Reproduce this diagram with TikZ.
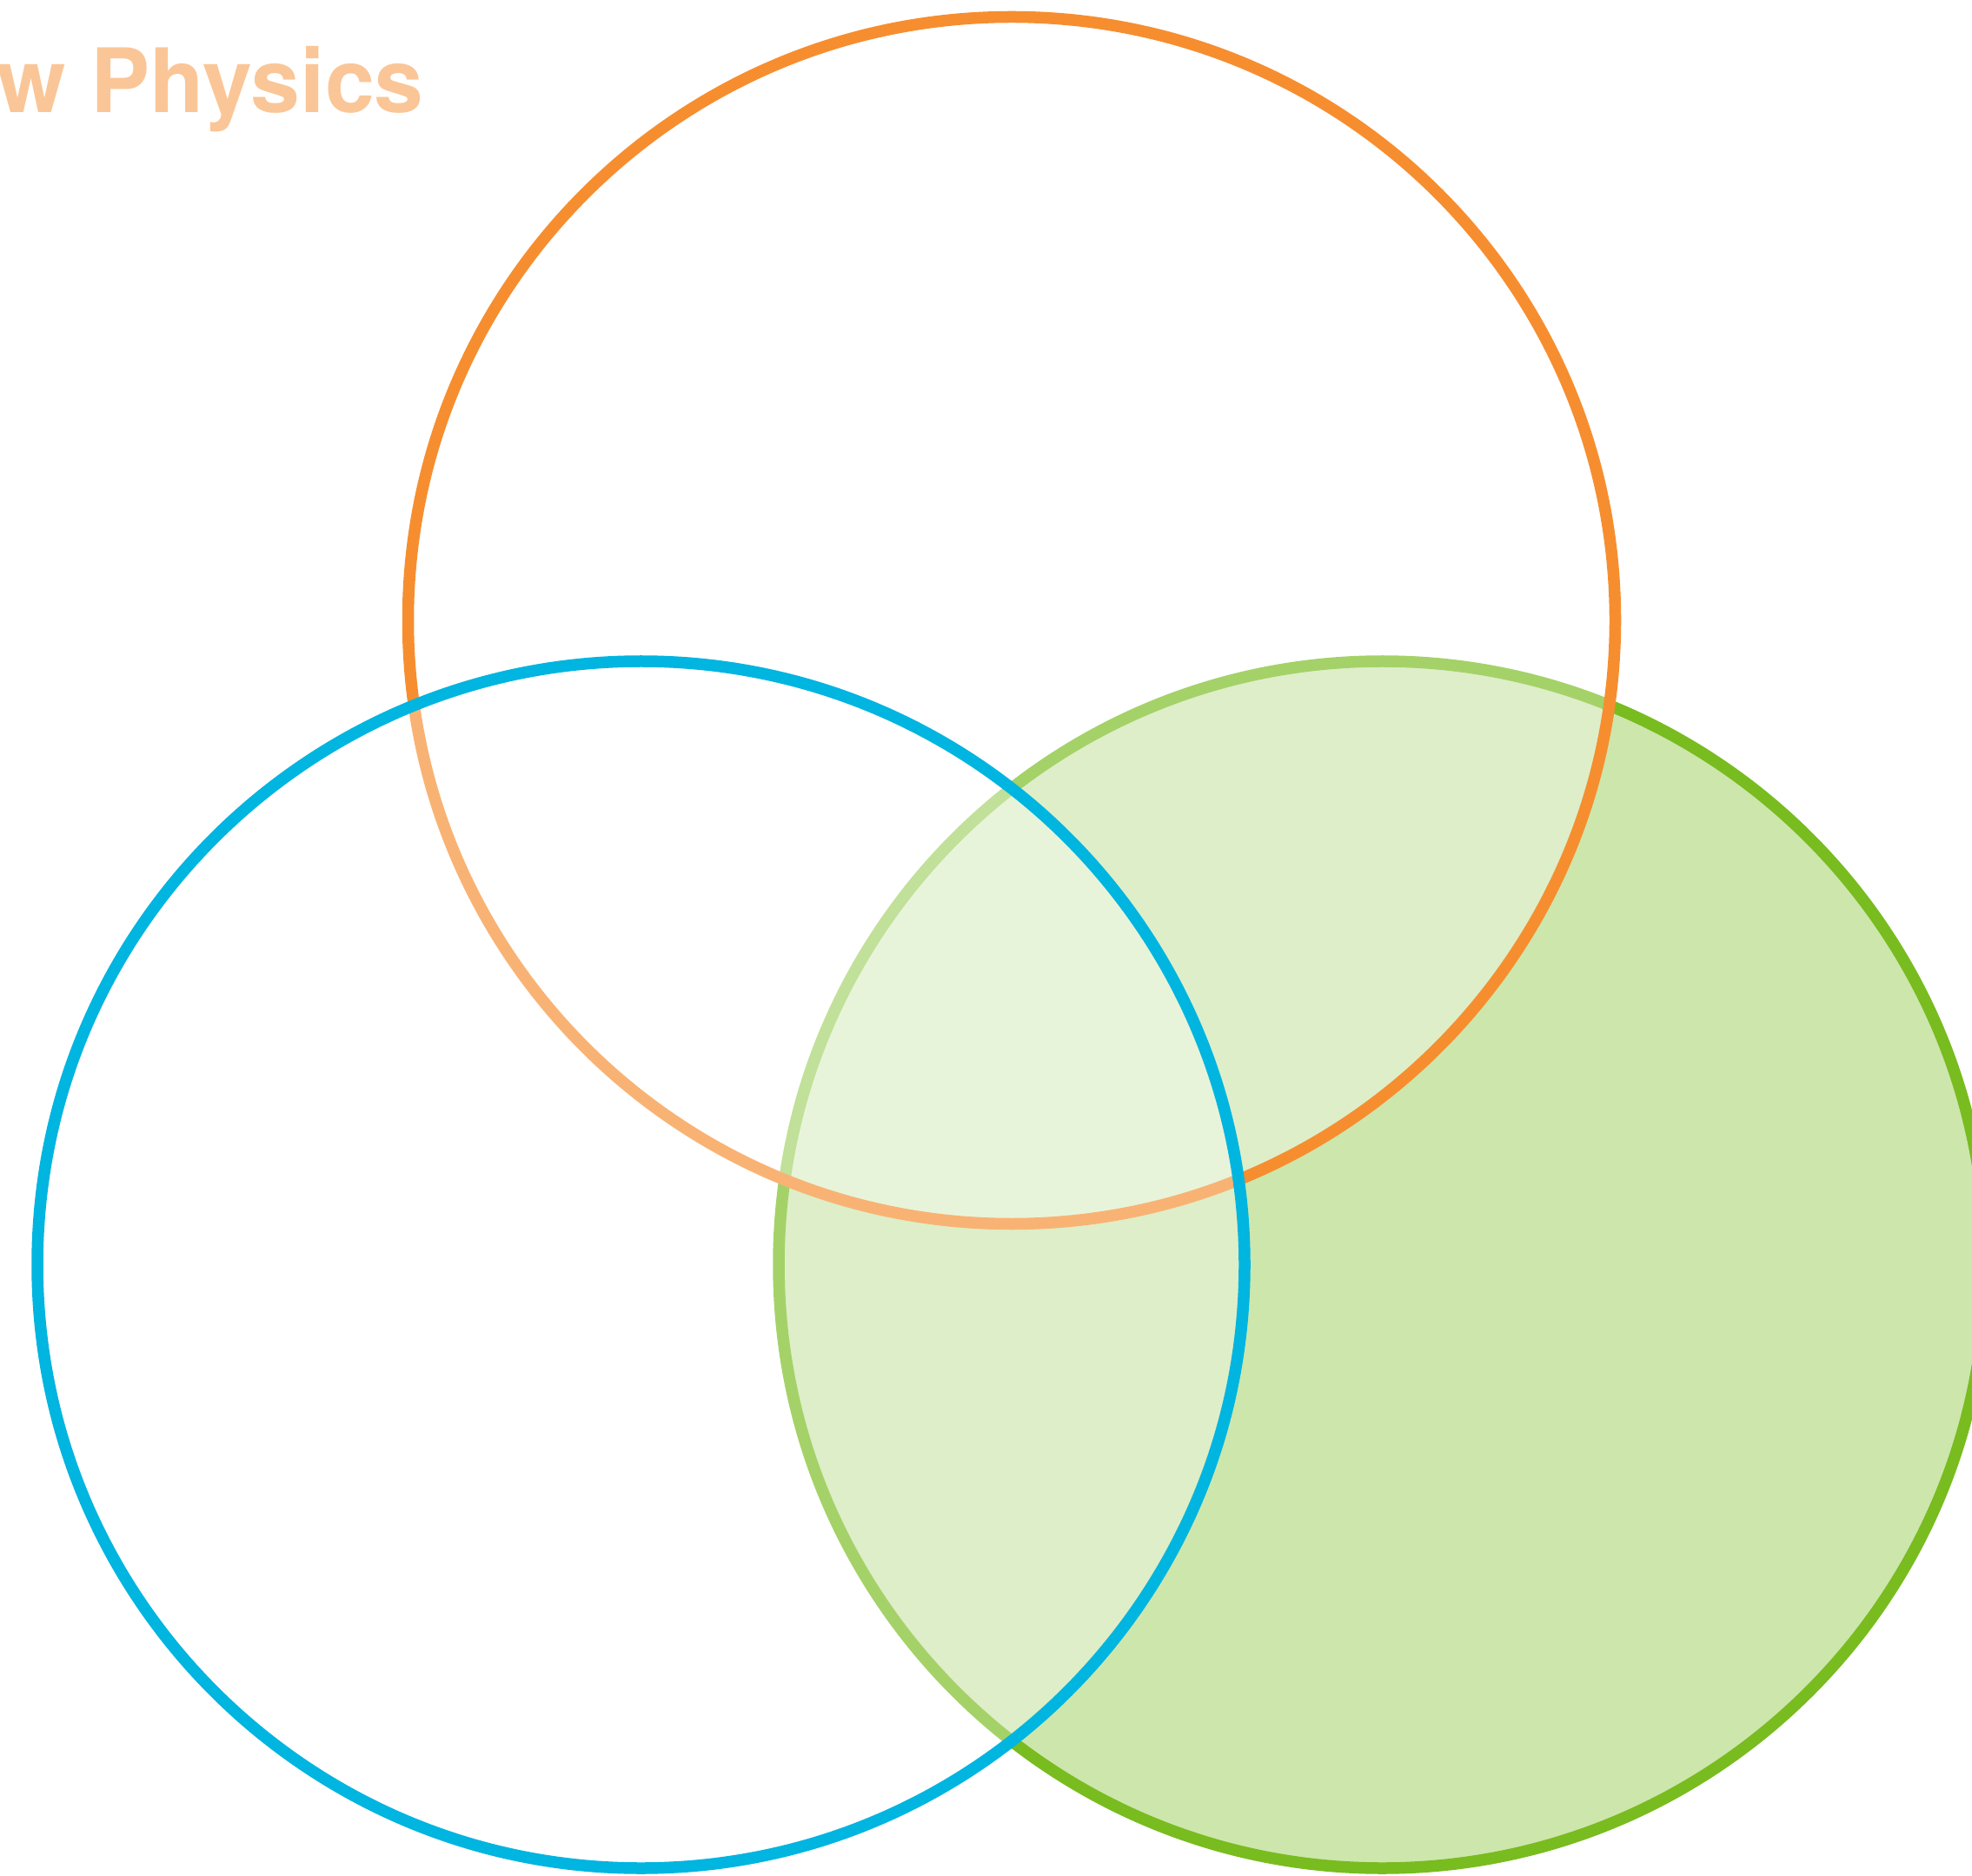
\documentclass[tikz,border=0pt]{standalone}
\usepackage{fontspec}
\setmainfont{TeX Gyre Heros}
\definecolor{vorange}{RGB}{246,142,48}
\definecolor{vblue}{RGB}{0,181,224}
\definecolor{vgreen}{RGB}{120,188,31}
\tikzset{
  ring/.style={line width=0.135cm},
  veil/.style={fill=white, fill opacity=0.33}
}
\begin{document}
\begin{tikzpicture}
\useasboundingbox (0,0) rectangle (22.69,21.58);
\clip (0,0) rectangle (22.69,21.58);
\coordinate (cg) at (15.905,7.025);
\coordinate (co) at (11.64,14.44);
\coordinate (cb) at (7.375,7.025);
% green circle
\filldraw[ring, draw=vgreen, fill=vgreen, fill opacity=0.37] (cg) circle[radius=6.945];
% orange circle
\filldraw[ring, draw=vorange, veil] (co) circle[radius=6.945];
% blue circle
\filldraw[ring, draw=vblue, veil] (cb) circle[radius=6.945];
% title
\node[anchor=base west, inner sep=0pt, text=vorange!50!white, font=\bfseries\fontsize{29.1}{35}\selectfont] (title) at (-0.04,20.28) {w Physics};
\end{tikzpicture}
\end{document}
